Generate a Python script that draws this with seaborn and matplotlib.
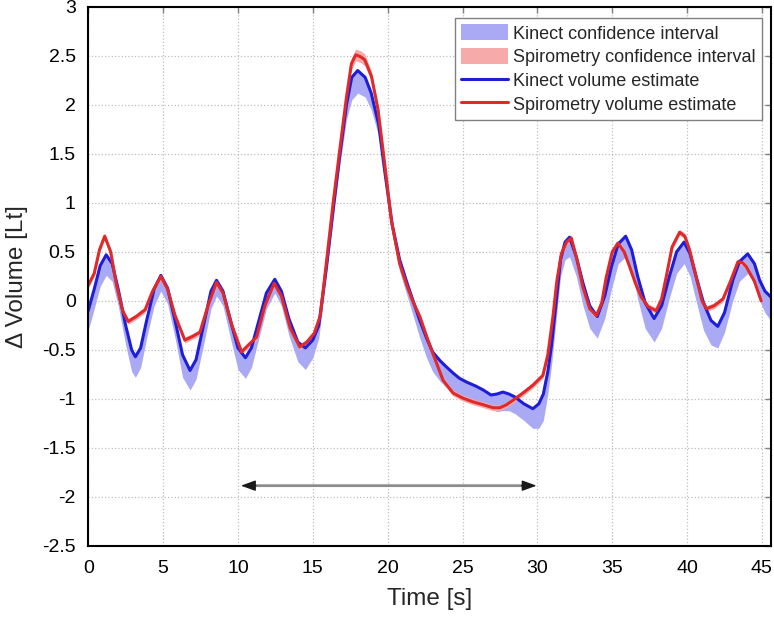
import numpy as np
import matplotlib
matplotlib.use("Agg")
import matplotlib.pyplot as plt
import seaborn as sns
from matplotlib.patches import Patch
from matplotlib.lines import Line2D

# Kinect volume estimate (time [s], volume [Lt], lower edge of confidence band)
kinect_t = [0, 0.4, 0.8, 1.2, 1.6, 2.0, 2.5, 2.9, 3.15, 3.5,
            3.9, 4.4, 4.85, 5.3, 5.8, 6.3, 6.8, 7.2, 7.7, 8.2,
            8.57, 9.0, 9.5, 10.0, 10.5, 10.9, 11.4, 11.9, 12.46, 12.9,
            13.4, 14.0, 14.5, 15.0, 15.4, 15.9, 16.4, 16.8, 17.25, 17.6,
            18.0, 18.5, 18.9, 19.4, 19.8, 20.3, 20.8, 21.3, 21.7, 22.15,
            22.6, 23.0, 23.5, 23.9, 24.4, 24.8, 25.3, 25.9, 26.4, 26.9,
            27.3, 27.7, 28.1, 28.5, 29.1, 29.7, 30.1, 30.4, 30.7, 30.95,
            31.25, 31.55, 31.85, 32.15, 32.6, 33.05, 33.5, 34.0, 34.5, 34.95,
            35.4, 35.9, 36.3, 36.7, 37.2, 37.8, 38.3, 38.8, 39.3, 39.8,
            40.2, 40.6, 41.1, 41.6, 42.05, 42.5, 43.05, 43.5, 44.05, 44.5,
            44.85, 45.2, 45.6]
kinect_v = [-0.10, 0.12, 0.36, 0.47, 0.38, 0.12, -0.25, -0.50, -0.57, -0.48,
            -0.20, 0.12, 0.26, 0.13, -0.20, -0.55, -0.71, -0.60, -0.25, 0.10,
            0.21, 0.10, -0.20, -0.48, -0.58, -0.48, -0.20, 0.08, 0.22, 0.10,
            -0.18, -0.42, -0.48, -0.40, -0.25, 0.33, 0.98, 1.48, 2.00, 2.28,
            2.35, 2.28, 2.12, 1.80, 1.33, 0.78, 0.42, 0.18, 0.00, -0.20,
            -0.38, -0.52, -0.61, -0.67, -0.74, -0.79, -0.83, -0.87, -0.91, -0.96,
            -0.95, -0.93, -0.95, -0.98, -1.05, -1.10, -1.05, -0.95, -0.72, -0.45,
            -0.02, 0.42, 0.60, 0.65, 0.45, 0.18, -0.05, -0.16, 0.05, 0.35,
            0.58, 0.66, 0.52, 0.25, -0.02, -0.18, -0.05, 0.24, 0.50, 0.60,
            0.48, 0.25, -0.02, -0.20, -0.26, -0.12, 0.21, 0.40, 0.48, 0.38,
            0.21, 0.10, 0.04]
kinect_lo = [-0.30, -0.08, 0.15, 0.26, 0.20, -0.05, -0.45, -0.72, -0.78, -0.68,
             -0.38, -0.05, 0.10, -0.03, -0.38, -0.78, -0.91, -0.80, -0.45, -0.08,
             0.05, -0.05, -0.38, -0.70, -0.79, -0.68, -0.38, -0.08, 0.08, -0.05,
             -0.35, -0.62, -0.70, -0.58, -0.38, 0.25, 0.90, 1.38, 1.85, 2.05,
             2.12, 2.08, 1.95, 1.68, 1.22, 0.68, 0.30, 0.05, -0.15, -0.38,
             -0.58, -0.72, -0.82, -0.88, -0.93, -0.96, -0.98, -1.02, -1.06, -1.10,
             -1.13, -1.12, -1.12, -1.15, -1.22, -1.30, -1.30, -1.22, -0.95, -0.65,
             -0.20, 0.25, 0.42, 0.45, 0.25, -0.05, -0.28, -0.38, -0.18, 0.12,
             0.38, 0.45, 0.30, 0.02, -0.28, -0.42, -0.28, 0.02, 0.28, 0.38,
             0.25, 0.00, -0.30, -0.45, -0.48, -0.32, 0.00, 0.20, 0.28, 0.18,
             0.00, -0.12, -0.20]

# Spirometry volume estimate (time [s], volume [Lt], half width of confidence band)
spiro_t = [0, 0.4, 0.75, 1.1, 1.5, 1.9, 2.3, 2.67, 3.2, 3.8,
           4.3, 4.85, 5.3, 5.8, 6.45, 7.0, 7.46, 8.0, 8.57, 9.0,
           9.6, 10.24, 10.7, 11.24, 11.8, 12.42, 12.9, 13.5, 14.13, 14.6,
           15.1, 15.5, 15.9, 16.36, 16.8, 17.25, 17.58, 17.87, 18.2, 18.47,
           18.92, 19.36, 19.8, 20.25, 20.8, 21.3, 21.7, 22.15, 22.6, 23.03,
           23.7, 24.37, 25.0, 25.7, 26.4, 27.04, 27.5, 27.93, 28.5, 29.04,
           29.7, 30.37, 30.7, 31.04, 31.3, 31.6, 31.95, 32.27, 32.65, 33.04,
           33.5, 33.94, 34.3, 34.6, 35.0, 35.38, 35.8, 36.16, 36.55, 36.94,
           37.4, 37.94, 38.3, 38.6, 39.0, 39.5, 39.85, 40.17, 40.6, 41.0,
           41.3, 41.8, 42.4, 42.9, 43.4, 43.7, 43.95, 44.5, 44.95]
spiro_v = [0.16, 0.28, 0.52, 0.66, 0.50, 0.15, -0.10, -0.21, -0.16, -0.09,
           0.10, 0.25, 0.12, -0.15, -0.40, -0.36, -0.32, -0.05, 0.19, 0.08,
           -0.25, -0.52, -0.45, -0.37, -0.05, 0.18, 0.05, -0.28, -0.47, -0.42,
           -0.33, -0.15, 0.38, 1.00, 1.54, 2.08, 2.42, 2.51, 2.49, 2.46,
           2.29, 1.95, 1.40, 0.82, 0.38, 0.15, -0.01, -0.16, -0.36, -0.54,
           -0.81, -0.94, -0.99, -1.03, -1.06, -1.09, -1.09, -1.06, -1.00, -0.94,
           -0.86, -0.76, -0.55, -0.16, 0.20, 0.48, 0.60, 0.64, 0.42, 0.14,
           -0.08, -0.15, -0.02, 0.24, 0.50, 0.59, 0.50, 0.35, 0.18, 0.04,
           -0.06, -0.10, 0.02, 0.24, 0.55, 0.70, 0.66, 0.52, 0.25, 0.00,
           -0.08, -0.05, 0.02, 0.20, 0.40, 0.39, 0.35, 0.20, 0.00]
spiro_ci = [0.03, 0.03, 0.03, 0.03, 0.03, 0.03, 0.03, 0.03, 0.03, 0.03,
            0.03, 0.03, 0.03, 0.03, 0.03, 0.03, 0.03, 0.03, 0.03, 0.03,
            0.03, 0.03, 0.03, 0.03, 0.03, 0.03, 0.03, 0.03, 0.03, 0.03,
            0.03, 0.03, 0.03, 0.04, 0.04, 0.05, 0.06, 0.06, 0.06, 0.06,
            0.05, 0.04, 0.04, 0.03, 0.03, 0.03, 0.03, 0.03, 0.03, 0.03,
            0.03, 0.03, 0.03, 0.03, 0.03, 0.03, 0.03, 0.03, 0.03, 0.03,
            0.03, 0.03, 0.03, 0.03, 0.03, 0.03, 0.03, 0.03, 0.03, 0.03,
            0.03, 0.03, 0.03, 0.03, 0.03, 0.03, 0.03, 0.03, 0.03, 0.03,
            0.03, 0.03, 0.03, 0.03, 0.03, 0.03, 0.03, 0.03, 0.03, 0.03,
            0.03, 0.03, 0.03, 0.03, 0.03, 0.03, 0.03, 0.03, 0.03]

# interval marked by the double arrow
arrow_span = [10.2, 29.95]
arrow_level = -1.885

x_ticks = [0, 5, 10, 15, 20, 25, 30, 35, 40, 45]
y_ticks = [-2.5, -2, -1.5, -1, -0.5, 0, 0.5, 1, 1.5, 2, 2.5, 3]

kinect_line = "#1e1ed8"
kinect_fill = "#aaaaf4"
spiro_line = "#e02a2a"
spiro_fill = "#f6aaaa"

sns.set_theme(style="white")
plt.rcParams["font.family"] = ["Liberation Sans", "DejaVu Sans"]

fig = plt.figure(figsize=(7.74, 6.19), dpi=100)
ax = fig.add_axes([0.114, 0.118, 0.882, 0.871])

ax.fill_between(kinect_t, kinect_lo, kinect_v, color=kinect_fill, lw=0)
s_v = np.array(spiro_v)
s_ci = np.array(spiro_ci)
ax.fill_between(spiro_t, s_v - s_ci, s_v + s_ci, color=spiro_fill, lw=0)
sns.lineplot(x=kinect_t, y=kinect_v, color=kinect_line, lw=2.2, sort=False, ax=ax,
             solid_joinstyle="round")
sns.lineplot(x=spiro_t, y=spiro_v, color=spiro_line, lw=2.2, sort=False, ax=ax,
             solid_joinstyle="round")

# double arrow: grey shaft, dark heads
head = "-|>,head_length=0.55,head_width=0.2"
ax.annotate("", xy=(arrow_span[0] + 0.5, arrow_level), xytext=(arrow_span[1] - 0.5, arrow_level),
            arrowprops=dict(arrowstyle="-", color="0.55", lw=2.0, shrinkA=0, shrinkB=0))
ax.annotate("", xy=(arrow_span[0], arrow_level), xytext=(arrow_span[0] + 1.0, arrow_level),
            arrowprops=dict(arrowstyle=head, color="0.1", lw=1.0, shrinkA=0, shrinkB=0,
                            mutation_scale=16))
ax.annotate("", xy=(arrow_span[1], arrow_level), xytext=(arrow_span[1] - 1.0, arrow_level),
            arrowprops=dict(arrowstyle=head, color="0.1", lw=1.0, shrinkA=0, shrinkB=0,
                            mutation_scale=16))

ax.set_xlim(0, 45.6)
ax.set_ylim(-2.5, 3)
ax.set_xticks(x_ticks)
ax.set_yticks(y_ticks)
ax.set_yticklabels([f"{v:g}" for v in y_ticks])
ax.grid(True, ls=":", color="0.75", lw=0.9)
ax.tick_params(direction="in", length=4, width=1, color="0.5", labelsize=14,
               top=True, right=True, labelcolor="black")
ax.tick_params(axis="x", pad=10)
ax.tick_params(axis="y", pad=9)
for sp in ax.spines.values():
    sp.set_color("black")
    sp.set_linewidth(1.5)

ax.set_xlabel("Time [s]", fontsize=17.5, labelpad=8)
ax.set_ylabel("Δ Volume [Lt]", fontsize=17.5, labelpad=10)

handles = [Patch(facecolor=kinect_fill, edgecolor="none"),
           Patch(facecolor=spiro_fill, edgecolor="none"),
           Line2D([], [], color=kinect_line, lw=2.2),
           Line2D([], [], color=spiro_line, lw=2.2)]
labels = ["Kinect confidence interval", "Spirometry confidence interval",
          "Kinect volume estimate", "Spirometry volume estimate"]
leg = ax.legend(handles, labels, loc="upper right", bbox_to_anchor=(0.992, 0.986),
                fontsize=13, handlelength=2.6, handleheight=1.0, handletextpad=0.25,
                labelspacing=0.3, borderpad=0.35, borderaxespad=0.2,
                fancybox=False, framealpha=1)
leg.get_frame().set_edgecolor("0.5")
leg.get_frame().set_linewidth(1.0)

fig.savefig("out.png", dpi=100)
